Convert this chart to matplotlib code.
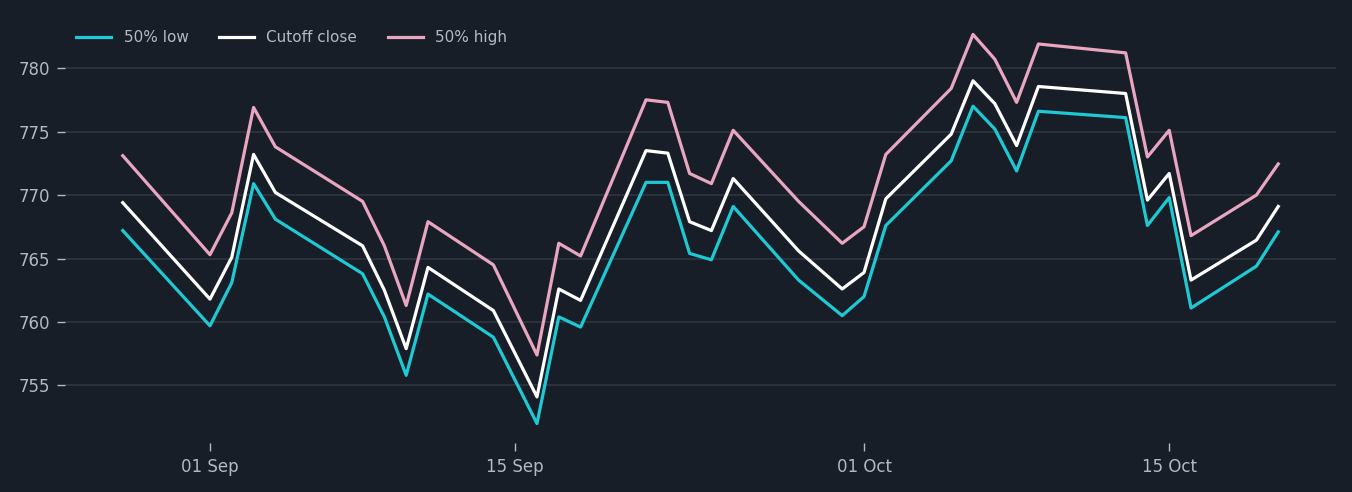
import numpy as np
import pandas as pd
import matplotlib
matplotlib.use("Agg")
from matplotlib import pyplot as plt
import matplotlib.dates as mdates

# trading days
dates = pd.to_datetime([
    "2020-08-28", "2020-09-01", "2020-09-02", "2020-09-03", "2020-09-04",
    "2020-09-08", "2020-09-09", "2020-09-10", "2020-09-11", "2020-09-14",
    "2020-09-16", "2020-09-17", "2020-09-18", "2020-09-21", "2020-09-22",
    "2020-09-23", "2020-09-24", "2020-09-25", "2020-09-28", "2020-09-30",
    "2020-10-01", "2020-10-02", "2020-10-05", "2020-10-06", "2020-10-07",
    "2020-10-08", "2020-10-09", "2020-10-13", "2020-10-14", "2020-10-15",
    "2020-10-16", "2020-10-19", "2020-10-20",
])

low = [767.2, 759.7, 763.1, 770.9, 768.1,
       763.8, 760.4, 755.8, 762.2, 758.8,
       752.0, 760.4, 759.6, 771.0, 771.0,
       765.4, 764.9, 769.1, 763.3, 760.5,
       762.0, 767.6, 772.7, 777.0, 775.2,
       771.9, 776.6, 776.1, 767.6, 769.8,
       761.1, 764.4, 767.1]

close = [769.4, 761.8, 765.1, 773.2, 770.2,
         766.0, 762.5, 757.9, 764.3, 760.9,
         754.1, 762.6, 761.7, 773.5, 773.3,
         767.9, 767.2, 771.3, 765.6, 762.6,
         763.9, 769.7, 774.8, 779.0, 777.2,
         773.9, 778.55, 778.0, 769.6, 771.7,
         763.3, 766.45, 769.1]

high = [773.1, 765.3, 768.6, 776.9, 773.8,
        769.5, 766.0, 761.3, 767.9, 764.5,
        757.4, 766.2, 765.2, 777.5, 777.3,
        771.7, 770.9, 775.1, 769.5, 766.2,
        767.5, 773.2, 778.4, 782.65, 780.7,
        777.3, 781.9, 781.2, 773.0, 775.1,
        766.8, 770.0, 772.45]

bg = "#181e28"
txt = "#b4b8c0"

fig = plt.figure(figsize=(13.52, 4.92), dpi=100, facecolor=bg)
ax = fig.add_axes([65 / 1352, 1 - 443 / 492, (1336 - 65) / 1352, (443 - 15) / 492])
ax.set_facecolor(bg)

ax.plot(dates, low, color="#1fc9d3", lw=2.3, label="50% low")
ax.plot(dates, close, color="white", lw=2.3, label="Cutoff close")
ax.plot(dates, high, color="#e8a6c0", lw=2.3, label="50% high")

ax.set_yticks([755, 760, 765, 770, 775, 780])
ax.set_xticks(pd.to_datetime(["2020-09-01", "2020-09-15", "2020-10-01", "2020-10-15"]))
ax.xaxis.set_major_formatter(mdates.DateFormatter("%d %b"))

ax.grid(axis="y", color="#2e343d", lw=1.3)
ax.grid(axis="x", visible=False)
for s in ax.spines.values():
    s.set_visible(False)
ax.tick_params(colors=txt, labelsize=12, length=5.5, width=1, pad=5)

leg = ax.legend(loc="upper left", ncol=3, frameon=False, fontsize=11,
                labelcolor=txt, handlelength=2.3, bbox_to_anchor=(-0.002, 0.997))

fig.savefig("out.png", dpi=100, facecolor=bg)
